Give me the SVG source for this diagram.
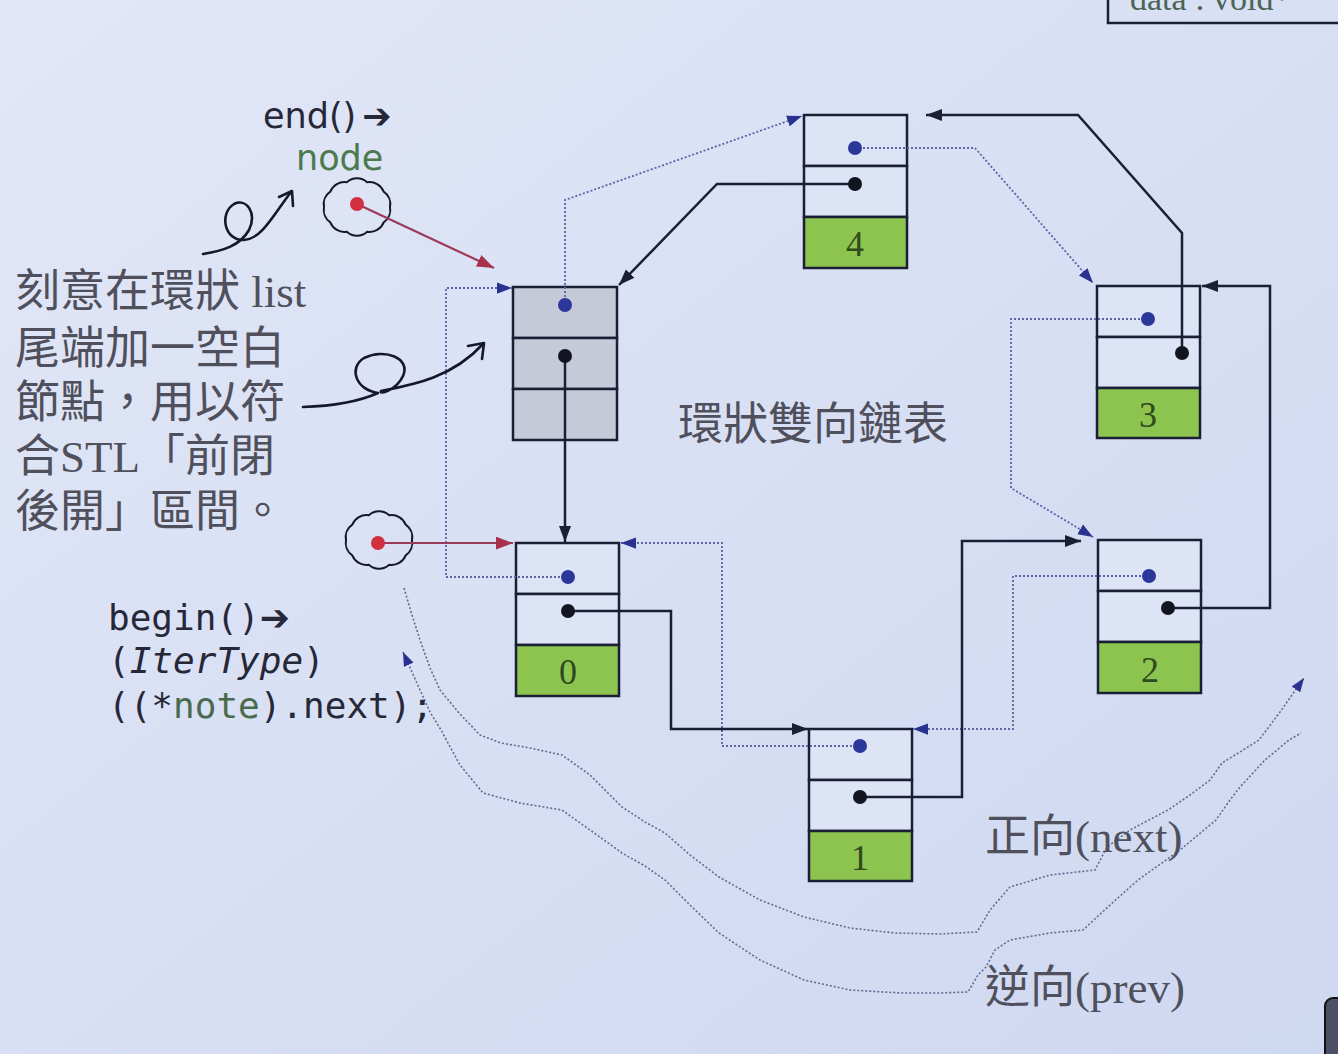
<svg xmlns="http://www.w3.org/2000/svg" width="1338" height="1054" viewBox="0 0 1338 1054">
<defs>
<linearGradient id="bg" x1="0" y1="0" x2="1" y2="1">
<stop offset="0" stop-color="#e1e7f7"/>
<stop offset="1" stop-color="#cfd8f1"/>
</linearGradient>
<marker id="arS" viewBox="0 0 16 12" refX="16" refY="6" markerWidth="16" markerHeight="12" markerUnits="userSpaceOnUse" orient="auto"><path d="M0,0 L16,6 L0,12 z" fill="#1b1f36"/></marker>
<marker id="arB" viewBox="0 0 16 12" refX="16" refY="6" markerWidth="15" markerHeight="12" markerUnits="userSpaceOnUse" orient="auto"><path d="M0,0 L16,6 L0,12 z" fill="#2a3290"/></marker>
<marker id="arR" viewBox="0 0 16 12" refX="16" refY="6" markerWidth="17" markerHeight="13" markerUnits="userSpaceOnUse" orient="auto"><path d="M0,0 L16,6 L0,12 z" fill="#a8324e"/></marker>
<marker id="arW" viewBox="0 0 16 12" refX="16" refY="6" markerWidth="14" markerHeight="11" markerUnits="userSpaceOnUse" orient="auto-start-reverse"><path d="M0,0 L16,6 L0,12 z" fill="#2a3290"/></marker>
<marker id="dotK" viewBox="-8 -8 16 16" refX="0" refY="0" markerWidth="16" markerHeight="16" markerUnits="userSpaceOnUse"><circle r="7" fill="#12141f"/></marker>
<marker id="dotB" viewBox="-8 -8 16 16" refX="0" refY="0" markerWidth="16" markerHeight="16" markerUnits="userSpaceOnUse"><circle r="7" fill="#2b3799"/></marker>
<marker id="dotR" viewBox="-8 -8 16 16" refX="0" refY="0" markerWidth="16" markerHeight="16" markerUnits="userSpaceOnUse"><circle r="7" fill="#d0303f"/></marker>
<path id="cloud" d="M33,0 A15,15 0 0 1 26.7,15.3 A15,15 0 0 1 10.2,24.7 A15,15 0 0 1 -10.2,24.7 A15,15 0 0 1 -26.7,15.3 A15,15 0 0 1 -33,0 A15,15 0 0 1 -26.7,-15.3 A15,15 0 0 1 -10.2,-24.7 A15,15 0 0 1 10.2,-24.7 A15,15 0 0 1 26.7,-15.3 A15,15 0 0 1 33,0 z" fill="none" stroke="#15172a" stroke-width="2"/>
</defs>
<style>
.cell{fill:#dde4f6;stroke:#1b1f36;stroke-width:2.5}
.gray{fill:#c6cad8;stroke:#1b1f36;stroke-width:2.5}
.green{fill:#8dc450;stroke:#1b1f36;stroke-width:2.5}
.num{font-family:"Liberation Serif",serif;font-size:36px;fill:#2f4a1c;text-anchor:middle}
.next{fill:none;stroke:#1b1f36;stroke-width:2.5}
.prev{fill:none;stroke:#5a64a6;stroke-width:1.8;stroke-dasharray:2 2}
.red{fill:none;stroke:#9c3a58;stroke-width:2.2}
.wave{fill:none;stroke:#626a92;stroke-width:1.6;stroke-dasharray:2 2;stroke-linejoin:round}
.hand{fill:none;stroke:#15172a;stroke-width:2.6;stroke-linecap:round;stroke-linejoin:round}
.cjk{font-family:"Liberation Serif","Noto Sans CJK TC",serif;font-size:45px;fill:#50505c}
.mono{font-family:"DejaVu Sans Mono",monospace;font-size:36px;fill:#262838}
.sans{font-family:"DejaVu Sans",sans-serif;font-size:35px;fill:#262838}
</style>
<rect width="1338" height="1054" fill="url(#bg)"/>

<g id="data-box">
<path d="M1108,0 V23 H1338" fill="none" stroke="#1b1f36" stroke-width="2.5"/>
<text x="1130" y="10" style="font-family:'Liberation Serif',serif;font-size:34px;fill:#4a6456">data : void*</text>
</g>

<g id="node-end">
<rect class="gray" x="513" y="287" width="104" height="51"/>
<rect class="gray" x="513" y="338" width="104" height="51"/>
<rect class="gray" x="513" y="389" width="104" height="51"/>
</g>
<g id="node-0">
<rect class="cell" x="516" y="543" width="103" height="51"/>
<rect class="cell" x="516" y="594" width="103" height="51"/>
<rect class="green" x="516" y="645" width="103" height="51"/>
<text class="num" x="568" y="684">0</text>
</g>
<g id="node-1">
<rect class="cell" x="809" y="729" width="103" height="51"/>
<rect class="cell" x="809" y="780" width="103" height="51"/>
<rect class="green" x="809" y="831" width="103" height="50"/>
<text class="num" x="860" y="870">1</text>
</g>
<g id="node-2">
<rect class="cell" x="1098" y="540" width="103" height="51"/>
<rect class="cell" x="1098" y="591" width="103" height="51"/>
<rect class="green" x="1098" y="642" width="103" height="51"/>
<text class="num" x="1150" y="682">2</text>
</g>
<g id="node-3">
<rect class="cell" x="1097" y="286" width="103" height="51"/>
<rect class="cell" x="1097" y="337" width="103" height="51"/>
<rect class="green" x="1097" y="388" width="103" height="50"/>
<text class="num" x="1148" y="427">3</text>
</g>
<g id="node-4">
<rect class="cell" x="804" y="115" width="103" height="51"/>
<rect class="cell" x="804" y="166" width="103" height="51"/>
<rect class="green" x="804" y="217" width="103" height="51"/>
<text class="num" x="855" y="256">4</text>
</g>

<g id="cloud-end"><use href="#cloud" x="357" y="207"/></g>
<g id="cloud-begin"><use href="#cloud" x="379" y="540"/></g>

<g id="connectors">
<path class="prev" d="M855,148 H975 L1093,283" marker-start="url(#dotB)" marker-end="url(#arB)"/>
<path class="prev" d="M1148,319 H1011 V488 L1093,537" marker-start="url(#dotB)" marker-end="url(#arB)"/>
<path class="prev" d="M1149,576 H1013 V729 H913" marker-start="url(#dotB)" marker-end="url(#arB)"/>
<path class="prev" d="M860,746 H722 V543 H621" marker-start="url(#dotB)" marker-end="url(#arB)"/>
<path class="prev" d="M568,577 H446 V288 H512" marker-start="url(#dotB)" marker-end="url(#arB)"/>
<path class="prev" d="M565,305 V200 L802,116" marker-start="url(#dotB)" marker-end="url(#arB)"/>

<path class="next" d="M565,356 V542" marker-start="url(#dotK)" marker-end="url(#arS)"/>
<path class="next" d="M568,611 H671 V729 H808" marker-start="url(#dotK)" marker-end="url(#arS)"/>
<path class="next" d="M860,797 H962 V541 H1081" marker-start="url(#dotK)" marker-end="url(#arS)"/>
<path class="next" d="M1168,608 H1270 V286 H1202" marker-start="url(#dotK)" marker-end="url(#arS)"/>
<path class="next" d="M1182,353 V233 L1078,115 H926" marker-start="url(#dotK)" marker-end="url(#arS)"/>
<path class="next" d="M855,184 H717 L619,285" marker-start="url(#dotK)" marker-end="url(#arS)"/>

<path class="red" d="M357,204 L494,268" marker-start="url(#dotR)" marker-end="url(#arR)"/>
<path class="red" d="M378,543 L513,543" marker-start="url(#dotR)" marker-end="url(#arR)"/>

<path class="wave" d="M404,588 L412,615 L420,640 L430,668 L440,690 L459,713 L480,735 L501,743 L530,748 L562,755 L590,775 L608,793 L622,807 L645,822 L665,833 L690,855 L719,877 L760,900 L804,917 L850,928 L895,933 L940,934 L977,932 L990,910 L1010,887 L1050,875 L1095,870 L1107,847 L1130,830 L1168,810 L1190,795 L1210,780 L1222,763 L1240,752 L1259,740 L1280,712 L1304,678" marker-end="url(#arW)"/>
<path class="wave" d="M403,652 L412,672 L420,690 L430,712 L441,730 L460,765 L483,793 L520,803 L562,810 L590,830 L622,853 L645,866 L665,880 L690,905 L719,933 L760,960 L804,980 L850,990 L901,993 L940,993 L968,992 L978,975 L986,967 L995,950 L1010,940 L1050,933 L1083,930 L1110,905 L1138,880 L1180,850 L1216,820 L1230,800 L1240,787 L1265,760 L1289,740 L1301,733" marker-start="url(#arW)"/>

<path class="hand" d="M203,254 C222,251 240,246 249,230 C257,213 247,198 234,204 C219,213 224,241 244,240 C262,239 274,214 291,192"/>
<path class="hand" d="M279,197 L292,191 L293,206"/>
<path class="hand" d="M303,407 C335,406 360,401 378,393 C356,390 348,368 364,358 C385,348 411,358 403,376 C396,391 378,395 381,391 C412,385 452,378 483,344"/>
<path class="hand" d="M468,346 L484,343 L482,359"/>
</g>

<g id="labels">
<text class="sans" x="263" y="128">end()<tspan dx="6" font-weight="bold">➔</tspan></text>
<text class="sans" x="296" y="170" style="fill:#4c7a4e">node</text>
<text class="cjk" x="15" y="307">刻意在環狀 list</text>
<text class="cjk" x="15" y="364">尾端加一空白</text>
<text class="cjk" x="15" y="418">節點，用以符</text>
<text class="cjk" x="15" y="472">合STL「前閉</text>
<text class="cjk" x="15" y="527">後開」區間。</text>
<text class="mono" x="108" y="630">begin()<tspan font-family="DejaVu Sans" font-weight="bold">➔</tspan></text>
<text class="mono" x="108" y="673">(<tspan font-style="italic">IterType</tspan>)</text>
<text class="mono" x="108" y="718">((*<tspan style="fill:#4a6a4e">note</tspan>).next);</text>
<text class="cjk" x="678" y="440">環狀雙向鏈表</text>
<text class="cjk" x="985" y="852">正向(next)</text>
<text class="cjk" x="985" y="1003">逆向(prev)</text>
</g>

<rect x="1325" y="998" width="30" height="70" rx="8" fill="#4b5064" stroke="#111" stroke-width="2"/>
</svg>
